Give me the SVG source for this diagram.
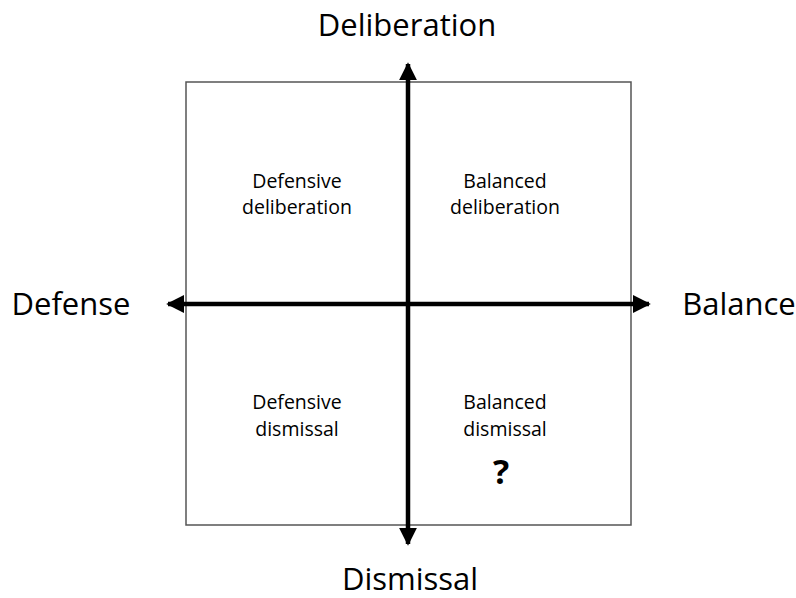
<svg xmlns="http://www.w3.org/2000/svg" width="796" height="598" viewBox="0 0 796 598">
<style>
.big{font-family:"Open Sans","Liberation Sans",sans-serif;font-size:31px;fill:#000;text-anchor:middle}
.q{font-family:"Open Sans","Liberation Sans",sans-serif;font-size:19.5px;fill:#000;text-anchor:middle}
.ax{stroke:#000;stroke-width:4.5;fill:none}
</style>
<defs>
<marker id="ah" viewBox="0 0 10 10" refX="9" refY="5" markerWidth="4" markerHeight="4" orient="auto" markerUnits="strokeWidth">
<path d="M0,0 L10,5 L0,10 z" fill="#000"/>
</marker>
</defs>
<rect width="796" height="598" fill="#fff"/>
<g id="frame"><rect x="186" y="82" width="445" height="443" fill="none" stroke="#555" stroke-width="1.5"/></g>
<g id="connectors">
<line class="ax" x1="408" y1="304" x2="408" y2="64" marker-end="url(#ah)"/>
<line class="ax" x1="408" y1="304" x2="408" y2="544" marker-end="url(#ah)"/>
<line class="ax" x1="408" y1="304" x2="168" y2="304" marker-end="url(#ah)"/>
<line class="ax" x1="408" y1="304" x2="649" y2="304" marker-end="url(#ah)"/>
</g>
<g id="deliberation"><text class="big" x="407" y="36">Deliberation</text></g>
<g id="dismissal"><text class="big" x="410" y="590">Dismissal</text></g>
<g id="defense"><text class="big" x="71" y="315">Defense</text></g>
<g id="balance"><text class="big" x="739" y="315">Balance</text></g>
<g id="q-defensive-deliberation"><text class="q" x="297" y="188">Defensive</text><text class="q" x="297" y="214">deliberation</text></g>
<g id="q-balanced-deliberation"><text class="q" x="505" y="188">Balanced</text><text class="q" x="505" y="214">deliberation</text></g>
<g id="q-defensive-dismissal"><text class="q" x="297" y="409">Defensive</text><text class="q" x="297" y="436">dismissal</text></g>
<g id="q-balanced-dismissal"><text class="q" x="505" y="409">Balanced</text><text class="q" x="505" y="436">dismissal</text>
<text x="501" y="484" style="font-family:'Open Sans','Liberation Sans',sans-serif;font-size:34px;font-weight:bold;text-anchor:middle">?</text></g>
</svg>
